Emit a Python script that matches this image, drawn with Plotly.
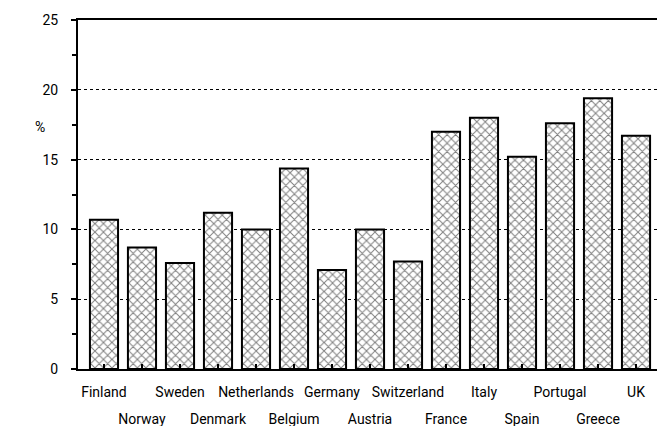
import plotly.graph_objects as go

countries = ["Finland", "Norway", "Sweden", "Denmark", "Netherlands", "Belgium",
             "Germany", "Austria", "Switzerland", "France", "Italy", "Spain",
             "Portugal", "Greece", "UK"]
values = [10.7, 8.7, 7.6, 11.2, 10.0, 14.36, 7.1, 10.0, 7.7, 17.0, 18.0, 15.2, 17.6, 19.4, 16.7]
y_ticks = [0, 5, 10, 15, 20, 25]

x_idx = list(range(len(countries)))
even_idx = x_idx[0::2]
odd_idx = x_idx[1::2]

FONT = "Liberation Sans Narrow, Arial Narrow, Roboto, Liberation Sans, Arial, sans-serif"

fig = go.Figure()
fig.add_trace(go.Bar(
    x=x_idx, y=values, width=0.74, hoverinfo="skip",
    marker=dict(color="white", line=dict(color="black", width=2),
                pattern=dict(shape="x", size=6, solidity=0.3, fgcolor="black", bgcolor="white")),
))
# invisible companion trace so the second-row label axis is drawn
fig.add_trace(go.Bar(x=x_idx, y=values, xaxis="x2", opacity=0, hoverinfo="skip",
                     width=0.74, marker=dict(color="rgba(0,0,0,0)")))

fig.update_layout(
    width=665, height=426,
    margin=dict(l=70, r=11, t=12, b=65, autoexpand=False),
    paper_bgcolor="white", plot_bgcolor="white",
    font=dict(family=FONT, size=14, color="black"),
    showlegend=False, barmode="overlay",
    annotations=[dict(text="%", xref="paper", yref="paper", showarrow=False,
                      x=-0.065, y=(369 - 127) / 349, xanchor="center", yanchor="middle",
                      font=dict(size=14))],
    xaxis=dict(
        range=[-0.684, 14.684], tickmode="array", tickvals=even_idx,
        ticktext=[countries[i] for i in even_idx],
        tickangle=0, automargin=False, layer="above traces", ticklabelstandoff=9,
        ticks="inside", ticklen=5, tickwidth=1.5, tickcolor="black",
        showline=True, linecolor="black", linewidth=2, mirror=True, showgrid=False,
        zeroline=False,
    ),
    xaxis2=dict(
        overlaying="x", side="bottom", anchor="y", matches="x",
        range=[-0.684, 14.684], tickmode="array", tickvals=odd_idx,
        ticktext=[countries[i] for i in odd_idx],
        tickangle=0, automargin=False, layer="above traces", ticklabelstandoff=40,
        ticks="inside", ticklen=5, tickwidth=1.5, tickcolor="black",
        showline=False, showgrid=False, zeroline=False,
    ),
)

fig.update_yaxes(
    range=[0, 25], tickmode="array", tickvals=y_ticks, automargin=False,
    ticks="outside", ticklen=5, tickwidth=1.5, tickcolor="black",
    minor=dict(tickmode="linear", tick0=0, dtick=2.5, ticks="outside", ticklen=4, tickcolor="black", showgrid=False),
    showline=True, linecolor="black", linewidth=2, mirror=True,
    showgrid=True, gridcolor="black", gridwidth=1, griddash="dot",
    zeroline=False, ticklabelstandoff=10,
)

fig.write_html("out.html")
